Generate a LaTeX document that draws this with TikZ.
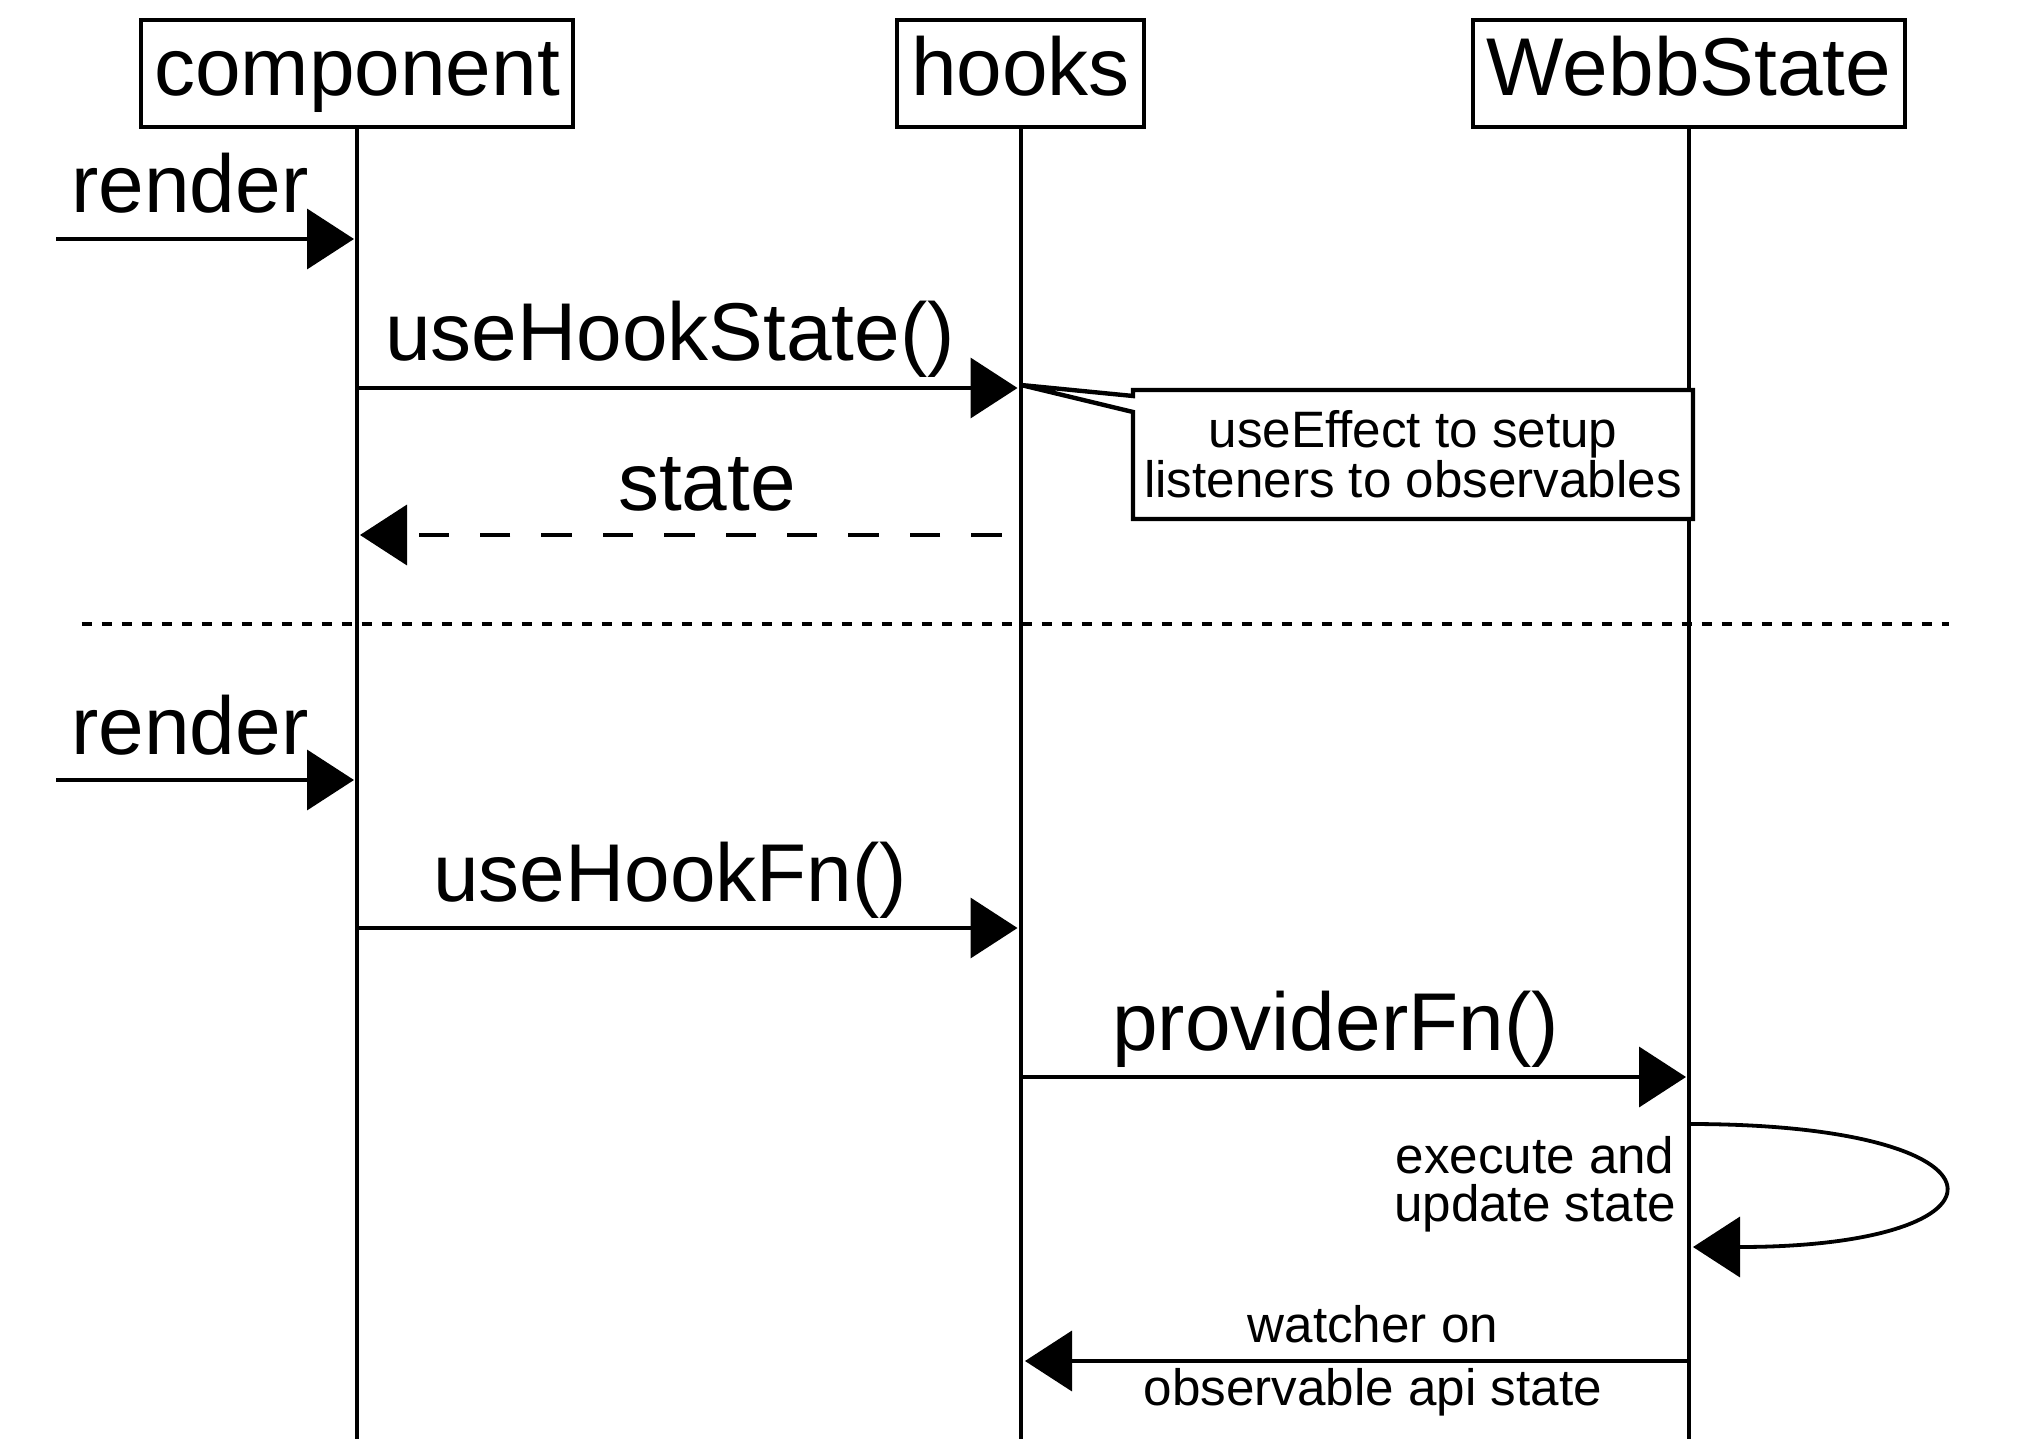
\documentclass[tikz,border=0pt]{standalone}
\usepackage{fontspec}
\setmainfont{Liberation Sans}
\usetikzlibrary{arrows.meta,calc}
\begin{document}
\begin{tikzpicture}[x=0.5pt,y=-0.5pt,
  actor/.style={draw, line width=2.3pt, inner sep=0pt,
    font=\fontsize{41pt}{48pt}\selectfont,
    text height=30.5pt, text depth=8pt, minimum height=53.5pt},
  life/.style={line width=2pt},
  msg/.style={line width=1.9pt, -{Triangle[length=23.5pt,width=30pt]}, shorten >=1.5pt},
  lbl/.style={font=\fontsize{41pt}{48pt}\selectfont, anchor=base, inner sep=0pt},
  lblsm/.style={font=\fontsize{25.6pt}{24pt}\selectfont, anchor=base, inner sep=0pt, align=center},
  notebox/.style={draw, fill=white, line width=2.2pt, line join=miter},
  notetext/.style={inner sep=0pt, align=center, font=\fontsize{25.6pt}{25pt}\selectfont},
  sepline/.style={line width=1.75pt, dash pattern=on 5.25pt off 4.75pt}]

\path[fill=white, use as bounding box] (0,0) rectangle (2044,1454);

% actors
\node[actor, minimum width=216pt] (comp) at (357,73.5) {component};
\node[actor, minimum width=123.5pt] (hooks) at (1020.5,73.5) {hooks};
\node[actor, minimum width=216pt] (webb) at (1689,73.5) {WebbState};

% lifeline ends
\coordinate (compE) at (357,1439);
\coordinate (hooksE) at (1020.5,1439);
\coordinate (webbE) at (1689,1439);
\draw[life] (comp.south) -- (compE);
\draw[life] (hooks.south) -- (hooksE);
\draw[life] (webb.south) -- (webbE);

% render 1
\coordinate (r1s) at (56,239);
\coordinate (r1e) at (357,239);
\draw[msg] (r1s) -- (r1e);
\node[lbl] (r1l) at (190,213) {render};

% useHookState
\coordinate (u1s) at (357,388);
\coordinate (u1e) at (1020.5,388);
\draw[msg] (u1s) -- (u1e);
\node[lbl] (u1l) at (670,361) {useHookState()};

% note
\coordinate (nTL) at (1133,390);
\coordinate (nBR) at (1693,519);
\coordinate (ptip) at (1021,385);
\draw[notebox] (nTL) -- (nTL -| nBR) -- (nBR) -- (nBR -| nTL) -- ($(nTL)+(0,22)$) -- (ptip) -- ($(nTL)+(0,6)$) -- cycle;
\node[notetext] (note) at ($(nTL)!0.5!(nBR)$) {useEffect to setup\\listeners to observables};

% state (dashed return)
\coordinate (s1s) at (1020.5,535);
\coordinate (s1e) at (357,535);
\draw[msg, shorten <=9.5pt, dash pattern=on 15.2pt off 15.5pt] (s1s) -- (s1e);
\node[lbl] (s1l) at (707,510) {state};

% separator
\coordinate (d1) at (81.5,624);
\coordinate (d2) at (1949,624);
\draw[sepline] (d1) -- (d2);

% render 2
\coordinate (r2s) at (56,780);
\coordinate (r2e) at (357,780);
\draw[msg] (r2s) -- (r2e);
\node[lbl] (r2l) at (190,754) {render};

% useHookFn
\coordinate (u2s) at (357,928);
\coordinate (u2e) at (1020.5,928);
\draw[msg] (u2s) -- (u2e);
\node[lbl] (u2l) at (670,901) {useHookFn()};

% providerFn
\coordinate (p1s) at (1020.5,1077);
\coordinate (p1e) at (1689,1077);
\draw[msg] (p1s) -- (p1e);
\node[lbl] (p1l) at (1335.5,1050) {providerFn()};

% self loop
\coordinate (ls) at (1689,1124);
\coordinate (le) at (1689,1247);
\draw[msg, shorten >=2pt] (ls) .. controls (2025,1124) and (2025,1247) .. (le);
\node[lblsm] (loopl) at (1535,1221) {execute and\\update state};

% watcher
\coordinate (w1s) at (1689,1361);
\coordinate (w1e) at (1020.5,1361);
\draw[msg, shorten >=2.25pt] (w1s) -- (w1e);
\node[lblsm] (w1a) at (1372.8,1342) {watcher on};
\node[lblsm] (w1b) at (1372.8,1405) {observable api state};

\end{tikzpicture}
\end{document}
